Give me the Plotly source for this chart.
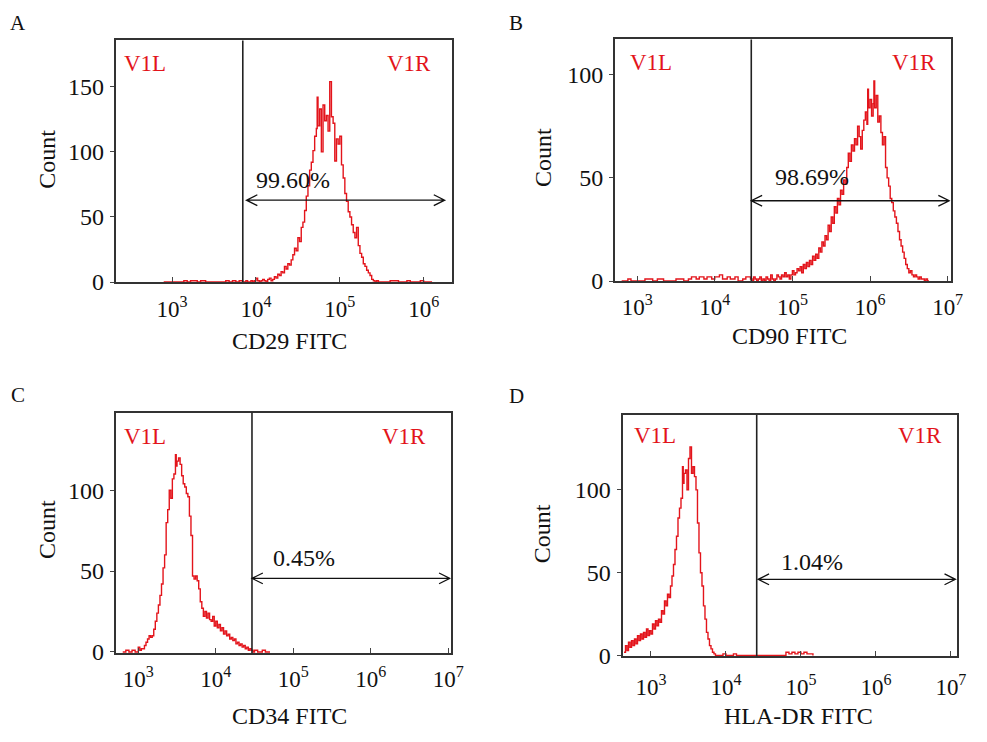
import plotly.graph_objects as go

PAGE_W, PAGE_H = 987, 742
OFF = 8                      # default body margin of the html page
W, H = PAGE_W - 2 * OFF, PAGE_H - 2 * OFF
RED = "#e3141b"
FONT = "Liberation Serif"

# ---------------- data (x = log10 fluorescence, y = count) ----------------
A_x = [2.90, 3.00, 3.10, 3.14, 3.18, 3.22, 3.30, 3.34, 3.40, 3.50, 3.60, 3.64, 3.68, 3.72, 3.76, 3.80, 3.84,
       3.86, 3.88, 3.90, 3.92, 3.94, 3.96, 3.98, 4.00, 4.02, 4.04, 4.06, 4.08, 4.10, 4.12, 4.14, 4.16, 4.18,
       4.20, 4.22, 4.24, 4.26, 4.28, 4.30, 4.32, 4.34, 4.36, 4.38, 4.40, 4.42, 4.44, 4.46, 4.48, 4.50, 4.52,
       4.54, 4.56, 4.58, 4.60, 4.62, 4.64, 4.66, 4.68, 4.70, 4.72, 4.73, 4.74, 4.76, 4.78, 4.80, 4.82, 4.84,
       4.86, 4.88, 4.90, 4.92, 4.94, 4.96, 4.98, 5.00, 5.02, 5.04, 5.06, 5.08, 5.10, 5.12, 5.14, 5.16, 5.18,
       5.20, 5.22, 5.24, 5.26, 5.28, 5.30, 5.32, 5.34, 5.36, 5.38, 5.40, 5.42, 5.44, 5.46, 5.48, 5.50, 5.60,
       5.70, 5.74, 5.80, 5.84, 5.90, 5.96, 6.00, 6.10]
A_y = [0, 0, 0, 1, 0, 1, 0, 1, 0, 0, 0, 1, 0, 1, 0, 1, 0,
       0, 1, 0, 0, 1, 0, 1, 3, 1, 0, 1, 2, 1, 0, 2, 3, 1,
       2, 4, 3, 6, 5, 8, 7, 12, 10, 14, 13, 17, 21, 26, 24, 34, 31,
       42, 46, 55, 66, 74, 86, 92, 101, 112, 118, 142, 120, 133, 100, 136, 124, 128,
       116, 154, 127, 122, 93, 110, 106, 112, 90, 80, 68, 62, 54, 50, 44, 38, 34,
       42, 28, 22, 19, 14, 12, 9, 7, 5, 2, 1, 0, 1, 0, 0, 0, 1,
       0, 0, 1, 0, 0, 1, 0, 0]

B_x = [2.80, 2.88, 2.92, 3.00, 3.10, 3.20, 3.26, 3.34, 3.40, 3.50, 3.60, 3.66, 3.70, 3.76, 3.80, 3.86, 3.90,
       3.96, 4.00, 4.06, 4.10, 4.16, 4.20, 4.26, 4.30, 4.36, 4.40,
       4.46, 4.48, 4.50, 4.52, 4.54, 4.56, 4.58, 4.60, 4.62, 4.64, 4.66, 4.68, 4.70, 4.72, 4.74, 4.76, 4.78,
       4.80, 4.82, 4.84, 4.86, 4.88, 4.90, 4.92, 4.94, 4.96, 4.98, 5.00, 5.02, 5.04, 5.06, 5.08, 5.10, 5.12,
       5.14, 5.16, 5.18, 5.20, 5.22, 5.24, 5.26, 5.28, 5.30, 5.32, 5.34, 5.36, 5.38, 5.40, 5.42, 5.44, 5.46,
       5.48, 5.50, 5.52, 5.54, 5.56, 5.58, 5.60, 5.62, 5.64, 5.66, 5.68, 5.70, 5.72, 5.74, 5.76, 5.78, 5.80,
       5.82, 5.84, 5.86, 5.88, 5.90, 5.92, 5.94, 5.96, 5.97, 5.98, 6.00, 6.02, 6.04, 6.05, 6.06, 6.08, 6.10,
       6.12, 6.14, 6.16, 6.18, 6.20, 6.22, 6.24, 6.26, 6.28, 6.30, 6.32, 6.34, 6.36, 6.38, 6.40, 6.42, 6.44,
       6.46, 6.48, 6.50, 6.52, 6.54, 6.56, 6.58, 6.60, 6.62, 6.64, 6.66, 6.68, 6.70, 6.72, 6.74, 6.76]
B_y = [0, 1, 0, 0, 1, 0, 1, 0, 0, 1, 0, 1, 2, 1, 2, 1, 2,
       1, 2, 3, 1, 2, 1, 2, 0, 1, 2,
       1, 0, 2, 1, 0, 1, 2, 0, 1, 0, 2, 1, 0, 3, 1, 0, 1,
       3, 2, 1, 3, 2, 4, 2, 3, 1, 3, 5, 3, 4, 6, 5, 7, 4,
       8, 6, 9, 7, 10, 8, 12, 10, 13, 11, 16, 14, 19, 17, 22, 20, 27,
       24, 31, 28, 36, 33, 40, 37, 44, 42, 49, 47, 55, 62, 58, 66, 63, 69,
       66, 75, 70, 64, 73, 78, 82, 76, 93, 84, 88, 80, 86, 97, 84, 90, 77,
       80, 72, 66, 70, 55, 50, 46, 40, 38, 34, 31, 28, 24, 20, 17, 14, 11,
       8, 6, 4, 5, 3, 2, 3, 2, 1, 2, 1, 1, 0, 1, 0, 0]

C_x = [2.80, 2.84, 2.88, 2.92, 2.96, 3.00, 3.02, 3.04, 3.06, 3.08, 3.10, 3.12, 3.14, 3.16, 3.18, 3.20, 3.22,
       3.24, 3.26, 3.28, 3.30, 3.32, 3.34, 3.36, 3.38, 3.40, 3.42, 3.44, 3.46, 3.48, 3.49, 3.50, 3.52, 3.54,
       3.56, 3.58, 3.60, 3.62, 3.64, 3.66, 3.68, 3.70, 3.72, 3.74, 3.76, 3.78, 3.80, 3.82, 3.84, 3.86, 3.88,
       3.90, 3.92, 3.94, 3.96, 3.98, 4.00, 4.02, 4.04, 4.06, 4.08, 4.10, 4.12, 4.14, 4.16, 4.18, 4.20, 4.22,
       4.24, 4.26, 4.28, 4.30, 4.32, 4.34, 4.36, 4.38, 4.40, 4.42, 4.44, 4.46, 4.48, 4.50, 4.54, 4.60, 4.64,
       4.70]
C_y = [0, 1, 0, 1, 0, 3, 1, 2, 2, 4, 6, 8, 10, 9, 10, 14, 19,
       24, 29, 35, 42, 52, 60, 80, 88, 100, 95, 107, 110, 122, 115, 118, 120, 116,
       109, 104, 102, 98, 96, 84, 72, 47, 45, 47, 44, 39, 31, 27, 22, 25, 21,
       24, 20, 19, 22, 16, 19, 15, 17, 13, 15, 11, 13, 10, 11, 8, 9, 7,
       8, 5, 6, 4, 5, 3, 4, 2, 3, 1, 2, 1, 0, 1, 0, 1, 0,
       0]

D_x = [2.64, 2.66, 2.68, 2.70, 2.72, 2.74, 2.76, 2.78, 2.80, 2.82, 2.84, 2.86, 2.88, 2.90, 2.92, 2.94, 2.96,
       2.98, 3.00, 3.02, 3.04, 3.06, 3.08, 3.10, 3.12, 3.14, 3.16, 3.18, 3.20, 3.22, 3.24, 3.26, 3.28, 3.30,
       3.32, 3.34, 3.36, 3.38, 3.40, 3.42, 3.43, 3.44, 3.46, 3.48, 3.50, 3.52, 3.54, 3.56, 3.58, 3.60, 3.62,
       3.64, 3.66, 3.68, 3.70, 3.72, 3.74, 3.76, 3.78, 3.80, 3.82, 3.84, 3.86, 3.90, 3.96, 4.00, 4.10, 4.14,
       4.76, 4.80, 4.84, 4.88, 4.92, 4.96, 5.00, 5.04, 5.08, 5.12, 5.16]
D_y = [2, 6, 3, 8, 5, 9, 6, 10, 7, 12, 9, 13, 10, 14, 11, 16, 12,
       15, 13, 19, 16, 21, 18, 22, 20, 27, 25, 33, 30, 37, 35, 42, 48, 55,
       64, 72, 83, 89, 95, 114, 104, 110, 112, 100, 119, 126, 110, 114, 108, 100, 80,
       62, 50, 42, 30, 22, 14, 10, 6, 4, 2, 1, 0, 0, 1, 0, 1, 0,
       0, 2, 1, 2, 1, 2, 1, 2, 1, 1, 0]

labels = ["A", "B", "C", "D"]
x_titles = ["CD29 FITC", "CD90 FITC", "CD34 FITC", "HLA-DR FITC"]
percents = ["99.60%", "98.69%", "0.45%", "1.04%"]
x_tick_exps = [[3, 4, 5, 6], [3, 4, 5, 6, 7], [3, 4, 5, 6, 7], [3, 4, 5, 6, 7]]
y_tick_vals = [[0, 50, 100, 150], [0, 50, 100], [0, 50, 100], [0, 50, 100]]
gates = [3.843, 4.47, 4.467, 4.41]
arrow_counts = [62.9, 38.9, 45.5, 46.0]
series = [(A_x, A_y), (B_x, B_y), (C_x, C_y), (D_x, D_y)]

# ---------------- layout geometry (page pixels) ----------------
boxes = [  # left, right, top, bottom of plot frame
    (117.3, 458.3, 41, 287),
    (623.3, 963.3, 40, 286),
    (117.3, 456.7, 420, 665),
    (631.0, 970.0, 422.3, 668),
]
x_ranges = [(2.329, 6.341), (2.715, 7.037), (2.711, 7.03), (2.622, 7.083)]
y_ranges = [(0, 185.7), (0, 117.1), (-0.8, 148), (-0.4, 145.3)]
arrow_tips = [(3.887, 6.25), (4.47, 7.02), (4.467, 7.02), (4.43, 7.06)]

letter_pos = [(18, 23), (523, 23), (18, 402), (523, 403)]
count_pos = [(48, 162), (551, 160), (48, 539), (550, 543)]
xtitle_pos = [(293, 347), (800, 342), (293, 729), (809, 729)]
v1l_pos = [(124, 65), (636.7, 63), (124, 444), (640.7, 443)]
v1r_pos = [(439, 65), (951, 63), (434, 444), (956.7, 443)]
pct_pos = [(257, 183), (783, 180), (275, 568), (789, 572)]
xlabel_standoff = [5, 4, 4, 9]


def px(x):
    return (x - OFF) / W


def py(y):
    return 1 - (y - OFF) / H


fig = go.Figure()
annotations = []
shapes = []

for i in range(4):
    sfx = "" if i == 0 else str(i + 1)
    xa, ya = "x" + sfx, "y" + sfx
    l, r, t, b = boxes[i]
    fig.add_trace(go.Scatter(
        x=series[i][0], y=series[i][1], mode="lines", line=dict(color=RED, width=1.4, shape="hv"),
        xaxis=xa, yaxis=ya, showlegend=False, hoverinfo="skip"))

    fig.update_layout(**{
        "xaxis" + sfx: dict(
            domain=[px(l), px(r)], range=list(x_ranges[i]), anchor=ya,
            tickvals=x_tick_exps[i], ticktext=["10<sup>%d</sup>" % e for e in x_tick_exps[i]],
            ticks="inside", ticklen=5, tickwidth=1.2, tickcolor="#444",
            showline=True, mirror=True, linecolor="#333", linewidth=2,
            showgrid=False, zeroline=False, ticklabelstandoff=xlabel_standoff[i],
            tickfont=dict(family=FONT, size=23, color="#111")),
        "yaxis" + sfx: dict(
            domain=[py(b), py(t)], range=list(y_ranges[i]), anchor=xa,
            tickvals=y_tick_vals[i], ticks="outside", ticklen=4, tickwidth=1.2, tickcolor="#444",
            showline=True, mirror=True, linecolor="#333", linewidth=2,
            showgrid=False, zeroline=False, ticklabelstandoff=1,
            tickfont=dict(family=FONT, size=24, color="#111")),
    })

    # gate line
    shapes.append(dict(type="line", xref=xa, yref=ya + " domain", x0=gates[i], x1=gates[i], y0=0, y1=1,
                       line=dict(color="#222", width=1.6)))
    # double arrow with open chevron heads
    ppx = (r - l) / (x_ranges[i][1] - x_ranges[i][0])
    ppy = (b - t) / (y_ranges[i][1] - y_ranges[i][0])
    dx, dy = 11 / ppx, 5.5 / ppy
    x0, x1 = arrow_tips[i]
    yv = arrow_counts[i]
    path = (f"M{x0},{yv} L{x1},{yv} "
            f"M{x0 + dx},{yv + dy} L{x0},{yv} L{x0 + dx},{yv - dy} "
            f"M{x1 - dx},{yv + dy} L{x1},{yv} L{x1 - dx},{yv - dy}")
    shapes.append(dict(type="path", xref=xa, yref=ya, path=path, line=dict(color="#111", width=1.3)))

    def ann(text, pos, size, color="#111", xanchor="center", angle=0):
        annotations.append(dict(text=text, x=px(pos[0]), y=py(pos[1]), xref="paper", yref="paper",
                                xanchor=xanchor, yanchor="middle", showarrow=False, textangle=angle,
                                font=dict(family=FONT, size=size, color=color)))

    ann(labels[i], letter_pos[i], 21)
    ann("Count", count_pos[i], 24, angle=-90)
    ann(x_titles[i], xtitle_pos[i], 24)
    ann("V1L", v1l_pos[i], 23, color=RED, xanchor="left")
    ann("V1R", v1r_pos[i], 23, color=RED, xanchor="right")
    ann(percents[i], pct_pos[i], 24, xanchor="left")

fig.update_layout(width=W, height=H, margin=dict(l=0, r=0, t=0, b=0),
                  paper_bgcolor="white", plot_bgcolor="white",
                  annotations=annotations, shapes=shapes)

fig.write_html("out.html", config={"displayModeBar": False})
